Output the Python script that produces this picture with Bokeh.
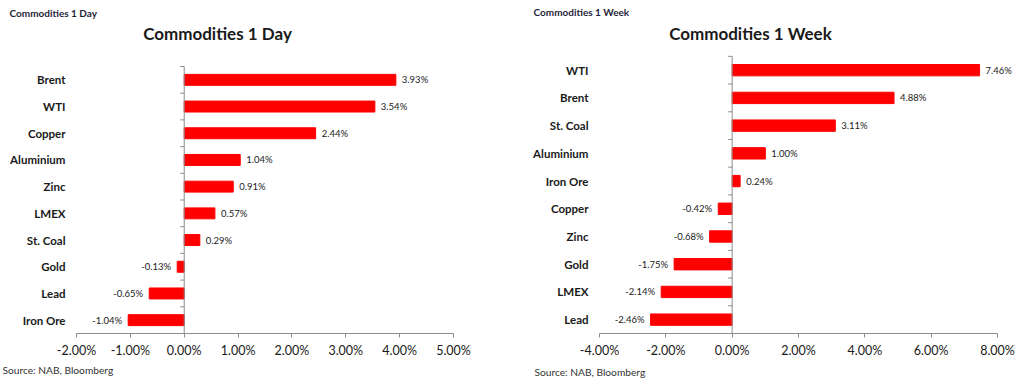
from bokeh.plotting import figure
from bokeh.layouts import row
from bokeh.models import (ColumnDataSource, LabelSet, Label, FixedTicker, Range1d, Title)
from bokeh.core.properties import value
from bokeh.embed import file_html
from bokeh.resources import INLINE

# ---------------- data ----------------
day_categories = ["Brent", "WTI", "Copper", "Aluminium", "Zinc", "LMEX", "St. Coal", "Gold", "Lead", "Iron Ore"]
day_values = [3.93, 3.54, 2.44, 1.04, 0.91, 0.57, 0.29, -0.13, -0.65, -1.04]
day_ticks = [-2, -1, 0, 1, 2, 3, 4, 5]
day_tick_labels = ["-2.00%", "-1.00%", "0.00%", "1.00%", "2.00%", "3.00%", "4.00%", "5.00%"]

week_categories = ["WTI", "Brent", "St. Coal", "Aluminium", "Iron Ore", "Copper", "Zinc", "Gold", "LMEX", "Lead"]
week_values = [7.46, 4.88, 3.11, 1.00, 0.24, -0.42, -0.68, -1.75, -2.14, -2.46]
week_ticks = [-4, -2, 0, 2, 4, 6, 8]
week_tick_labels = ["-4.00%", "-2.00%", "0.00%", "2.00%", "4.00%", "6.00%", "8.00%"]

FONT = "Lato"
TXT = "#1a1a1a"
AXIS = "#8c8c8c"
RED = "#ff0000"
FIG_TOP = 0


def make_chart(cats, vals, ticks, tick_labels, title, fig_left, width, height,
               plot_l, plot_r, plot_t, plot_b, small_xy, title_xy, source_offset, source_standoff):
    """plot_l/plot_r/plot_t/plot_b: page pixel positions of the value-axis extent / category area."""
    n = len(cats)
    x0, x1 = ticks[0], ticks[-1]
    ppu_x = (plot_r - plot_l) / (x1 - x0)          # px per unit, x
    ppu_y = (plot_b - plot_t) / n                   # px per category band
    border_b = FIG_TOP + height - plot_b
    xs = x0 - (plot_l - fig_left) / ppu_x
    xe = x1 + (fig_left + width - plot_r) / ppu_x
    ye = n + (plot_t - FIG_TOP) / ppu_y

    p = figure(width=width, height=height, output_backend="svg", toolbar_location=None,
               x_range=Range1d(xs, xe), y_range=Range1d(0, ye), y_axis_location=None,
               min_border_left=0, min_border_right=0, min_border_top=0,
               min_border_bottom=border_b,
               outline_line_color=None, background_fill_color="white")
    p.grid.visible = False

    def dx(px):
        return xs + (px - fig_left) / ppu_x

    def dy(py):
        return ye - (py - FIG_TOP) / ppu_y

    ys = [n - i - 0.5 for i in range(n)]
    pos = [v >= 0 for v in vals]
    src = ColumnDataSource(dict(
        y=ys, v=vals, cat=cats, x0=[x0] * n,
        lab=["%.2f%%" % v for v in vals],
        align=["left" if q else "right" for q in pos],
        off=[6 if q else -6 for q in pos],
    ))
    p.hbar(y="y", left=0, right="v", height=0.41, source=src,
           fill_color=RED, line_color=RED)

    # zero line with category tick marks
    p.segment(x0=[0], x1=[0], y0=[0], y1=[n], line_color=AXIS, line_width=1)
    tick_len = 4 / ppu_x
    p.segment(x0=[-tick_len] * (n + 1), x1=[0] * (n + 1), y0=list(range(n + 1)),
              y1=list(range(n + 1)), line_color=AXIS, line_width=1)

    p.add_layout(LabelSet(x="v", y="y", text="lab", source=src, x_offset="off",
                          text_align="align", text_baseline="middle",
                          text_font=value(FONT), text_font_size="9.5px", text_color=TXT))
    # category labels
    p.add_layout(LabelSet(x="x0", y="y", text="cat", source=src, x_offset=-11,
                          text_align="right", text_baseline="middle",
                          text_font=value(FONT), text_font_style="bold",
                          text_font_size="11.5px", text_color=TXT))

    xa = p.xaxis[0]
    xa.bounds = (x0, x1)
    xa.ticker = FixedTicker(ticks=ticks)
    xa.major_label_overrides = {t: l for t, l in zip(ticks, tick_labels)}
    xa.axis_line_color = AXIS
    xa.major_tick_line_color = AXIS
    xa.major_tick_in = 0
    xa.major_tick_out = 4
    xa.minor_tick_line_color = None
    xa.major_label_standoff = 5
    xa.major_label_text_font = FONT
    xa.major_label_text_font_size = "12.5px"
    xa.major_label_text_color = TXT

    p.add_layout(Label(x=dx(small_xy[0]), y=dy(small_xy[1]), text=title,
                       text_align="left", text_baseline="middle", text_font=FONT,
                       text_font_style="bold", text_font_size="10px", text_color="#1f1f3a"))
    p.add_layout(Label(x=dx(title_xy[0]), y=dy(title_xy[1]), text=title,
                       text_align="center", text_baseline="middle", text_font=FONT,
                       text_font_style="bold", text_font_size="17px", text_color=TXT))
    p.add_layout(Title(text="Source: NAB, Bloomberg", align="left", offset=source_offset,
                       standoff=source_standoff, text_font=FONT, text_font_style="normal",
                       text_font_size="10.2px", text_color="#333333"), "below")
    return p


p1 = make_chart(day_categories, day_values, day_ticks, day_tick_labels, "Commodities 1 Day",
                fig_left=0, width=512, height=385,
                plot_l=76, plot_r=453, plot_t=66, plot_b=333,
                small_xy=(9, 12), title_xy=(217, 33), source_offset=2, source_standoff=2)
p2 = make_chart(week_categories, week_values, week_ticks, week_tick_labels, "Commodities 1 Week",
                fig_left=512, width=512, height=385,
                plot_l=599, plot_r=997, plot_t=56, plot_b=334,
                small_xy=(533, 12), title_xy=(750, 33), source_offset=22, source_standoff=7)

layout = row(p1, p2)
open("out.html", "w").write(file_html(layout, INLINE))
